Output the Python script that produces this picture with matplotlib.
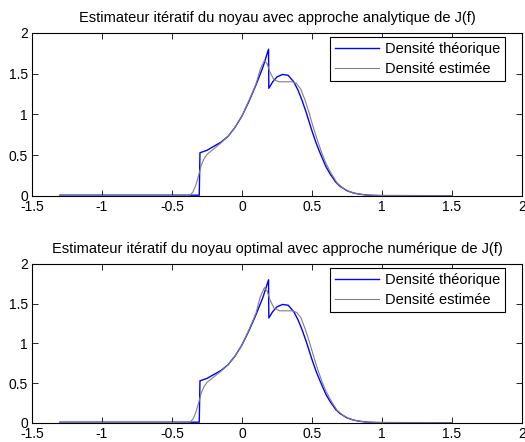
import numpy as np
import matplotlib
matplotlib.use("Agg")
import matplotlib.pyplot as plt

plt.rcParams['font.family'] = ['Liberation Sans', 'DejaVu Sans']

# theoretical density (same in both panels)
x_theo = [-1.3, -0.305, -0.30, -0.25, -0.2, -0.15, -0.1, -0.05, 0.0, 0.05, 0.1,
          0.15, 0.19, 0.192, 0.22, 0.25, 0.29, 0.33, 0.37, 0.4, 0.43, 0.46, 0.5,
          0.53, 0.56, 0.6, 0.63, 0.67, 0.7, 0.75, 0.8, 0.85, 0.9, 0.95, 1.0, 1.5]
y_theo = [0.01, 0.01, 0.53, 0.56, 0.61, 0.66, 0.73, 0.84, 0.98, 1.16, 1.36,
          1.58, 1.80, 1.32, 1.40, 1.46, 1.49, 1.48, 1.40, 1.30, 1.17, 1.02, 0.80,
          0.65, 0.52, 0.36, 0.27, 0.17, 0.12, 0.065, 0.035, 0.02, 0.01, 0.007, 0.005, 0.003]

# estimated density, analytic J(f)
x_est = [-1.3, -0.4, -0.37, -0.35, -0.33, -0.31, -0.29, -0.27, -0.25, -0.2, -0.15,
         -0.1, -0.05, 0.0, 0.05, 0.1, 0.13, 0.16, 0.18, 0.2, 0.23, 0.27, 0.32, 0.36,
         0.39, 0.42, 0.45, 0.48, 0.51, 0.54, 0.57, 0.6, 0.64, 0.68, 0.72, 0.76, 0.8,
         0.85, 0.9, 1.0, 1.5]
y_est1 = [0.005, 0.005, 0.01, 0.05, 0.13, 0.25, 0.38, 0.46, 0.51, 0.58, 0.65,
          0.73, 0.84, 0.98, 1.17, 1.37, 1.55, 1.66, 1.62, 1.52, 1.42, 1.40, 1.40, 1.40,
          1.38, 1.31, 1.18, 1.02, 0.84, 0.68, 0.53, 0.40, 0.27, 0.16, 0.10, 0.06, 0.035,
          0.02, 0.01, 0.005, 0.003]

# estimated density, optimal kernel, numeric J(f)
y_est2 = [0.005, 0.005, 0.01, 0.05, 0.13, 0.25, 0.38, 0.46, 0.51, 0.58, 0.65,
          0.73, 0.84, 0.98, 1.17, 1.38, 1.58, 1.70, 1.66, 1.55, 1.44, 1.41, 1.41, 1.41,
          1.39, 1.33, 1.19, 1.03, 0.85, 0.68, 0.53, 0.40, 0.27, 0.16, 0.10, 0.06, 0.035,
          0.02, 0.01, 0.005, 0.003]

titles = ["Estimateur itératif du noyau avec approche analytique de J(f)",
          "Estimateur itératif du noyau optimal avec approche numérique de J(f)"]
labels = ["Densité théorique", "Densité estimée"]

fig = plt.figure(figsize=(5.25, 4.42), dpi=100)
ax1 = fig.add_axes([0.061, 0.5566, 0.933, 0.369])
ax2 = fig.add_axes([0.061, 0.043, 0.933, 0.36])

for ax, ye, title in [(ax1, y_est1, titles[0]), (ax2, y_est2, titles[1])]:
    ax.plot(x_theo, y_theo, color="#0000ff", lw=1.0, label=labels[0])
    ax.plot(x_est, ye, color="#808080", lw=0.8, label=labels[1])
    ax.set_xlim(-1.5, 2)
    ax.set_ylim(0, 2)
    ax.set_xticks(np.arange(-1.5, 2.01, 0.5))
    ax.set_xticklabels(["-1.5", "-1", "-0.5", "0", "0.5", "1", "1.5", "2"])
    ax.set_yticks([0, 0.5, 1, 1.5, 2])
    ax.set_yticklabels(["0", "0.5", "1", "1.5", "2"])
    ax.tick_params(direction="in", top=True, right=True, labelsize=10,
                   length=4, width=0.6, pad=3)
    for s in ax.spines.values():
        s.set_linewidth(0.8)
    ax.set_title(title, fontsize=10.5, pad=8)
    leg = ax.legend(loc="upper right", bbox_to_anchor=(0.966, 0.975),
                    fontsize=10.5, fancybox=False, framealpha=1,
                    edgecolor="black", borderaxespad=0,
                    handlelength=3.0, handletextpad=0.4,
                    labelspacing=0.4, borderpad=0.35)
    leg.get_frame().set_linewidth(0.8)

fig.savefig("out.png", dpi=100)
